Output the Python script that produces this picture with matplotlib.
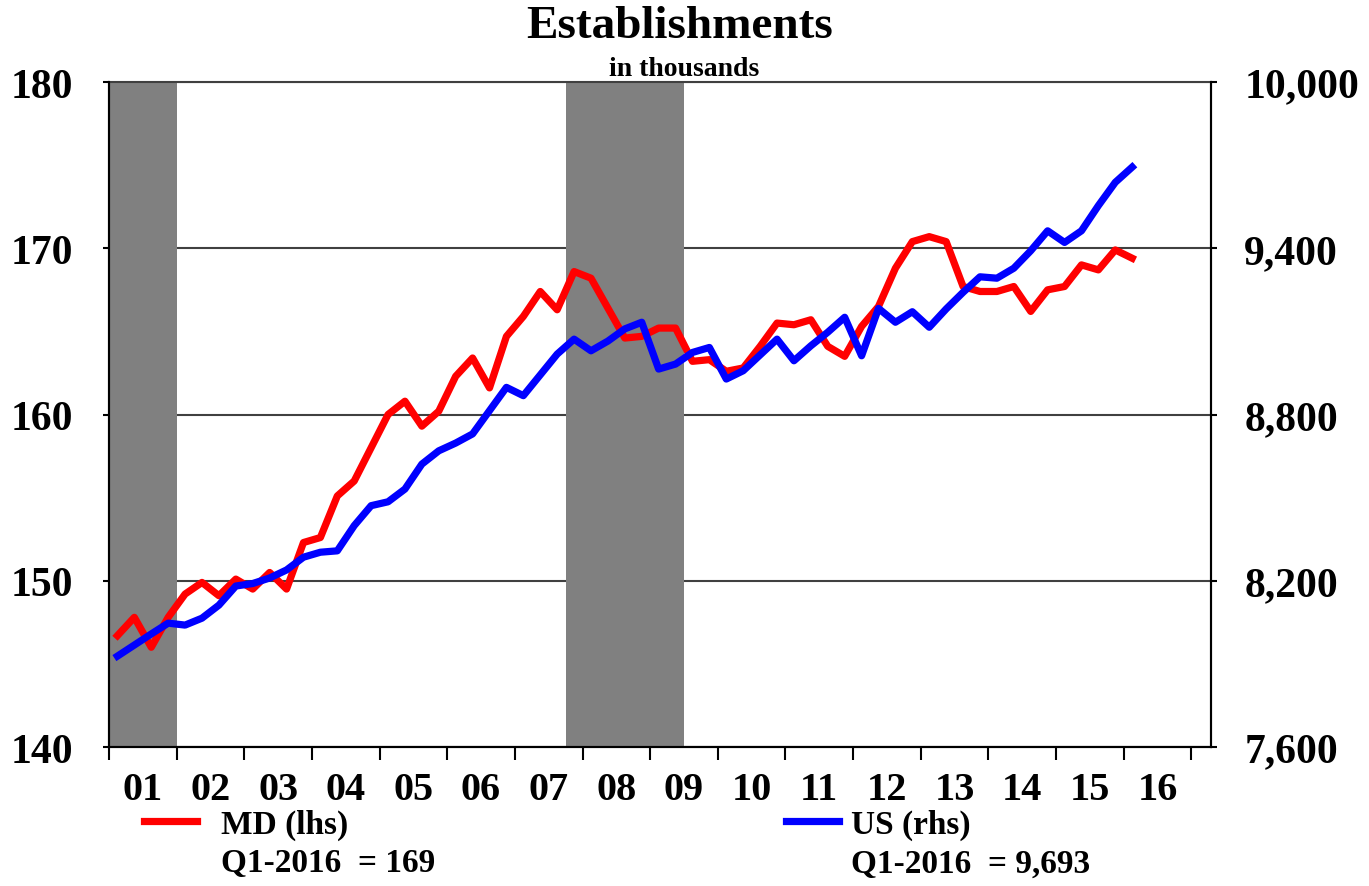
import numpy as np
import matplotlib.pyplot as plt
from matplotlib.ticker import FuncFormatter

# quarterly establishments, Q1-2001 .. Q1-2016 (thousands)
md = [146.7, 147.8, 146.0, 147.8, 149.2, 149.9, 149.1, 150.1, 149.5, 150.5,
      149.5, 152.3, 152.6, 155.1, 156.0, 158.0, 160.0, 160.8, 159.3, 160.2,
      162.3, 163.4, 161.6, 164.7, 165.9, 167.4, 166.3, 168.6, 168.2, 166.4,
      164.6, 164.7, 165.2, 165.2, 163.2, 163.3, 162.6, 162.8, 164.1, 165.5,
      165.4, 165.7, 164.1, 163.5, 165.3, 166.5, 168.8, 170.4, 170.7, 170.4,
      167.7, 167.4, 167.4, 167.7, 166.2, 167.5, 167.7, 169.0, 168.7, 169.9,
      169.4]
us = [7928, 7968, 8008, 8047, 8040, 8065, 8112, 8181, 8190, 8210,
      8239, 8285, 8303, 8308, 8399, 8471, 8485, 8531, 8621, 8669,
      8697, 8730, 8814, 8898, 8868, 8943, 9018, 9072, 9030, 9065,
      9109, 9133, 8964, 8982, 9024, 9042, 8928, 8958, 9015, 9072,
      8994, 9048, 9097, 9151, 9012, 9183, 9133, 9171, 9115, 9181,
      9241, 9297, 9292, 9328, 9391, 9463, 9421, 9463, 9554, 9638,
      9693]
t = 2001 + (np.arange(len(md)) + 0.5) / 4   # mid-quarter

years = np.arange(2001, 2018)
year_labels = ['01', '02', '03', '04', '05', '06', '07', '08',
               '09', '10', '11', '12', '13', '14', '15', '16']
recessions = [(2001.0, 2002.0), (2007.75, 2009.5)]
lhs_ticks = [140, 150, 160, 170, 180]
rhs_ticks = [7600, 8200, 8800, 9400, 10000]

plt.rcParams['font.family'] = ['Liberation Serif', 'DejaVu Serif']
plt.rcParams['font.weight'] = 'bold'

fig = plt.figure(figsize=(13.69, 8.87), dpi=100)
ax = fig.add_axes([0.0796, 0.1567, 0.8050, 0.7497])

for a, b in recessions:
    ax.axvspan(a, b, color='#808080', lw=0, zorder=1)

ax.set_axisbelow(True)
ax.yaxis.grid(True, color='#404040', lw=1.5)
h_md, = ax.plot(t, md, color='#ff0000', lw=5.2, zorder=3, label='MD (lhs)')

ax.set_xlim(2001, 2017.29)
ax.set_ylim(140, 180)
ax.set_yticks(lhs_ticks)
ax.set_xticks(years)
ax.set_xticklabels([])
ax.set_xticks(years[:-1] + 0.5, minor=True)
ax.set_xticklabels(year_labels, minor=True)
ax.tick_params(axis='x', which='major', direction='out', length=9, width=1.5)
ax.tick_params(axis='x', which='minor', length=0, pad=17, labelsize=29)
ax.tick_params(axis='y', direction='out', length=4, width=1.5, pad=22, labelsize=30)
for s in ax.spines.values():
    s.set_linewidth(1.5)
ax.spines['top'].set_color('#404040')

ax2 = ax.twinx()
h_us, = ax2.plot(t, us, color='#0000ff', lw=5.2, zorder=3, label='US (rhs)')
ax2.set_ylim(7600, 10000)
ax2.set_yticks(rhs_ticks)
ax2.yaxis.set_major_formatter(FuncFormatter(lambda v, p: f'{int(v):,}'))
ax2.tick_params(axis='y', direction='out', length=4, width=1.5, pad=20, labelsize=30)
for s in ax2.spines.values():
    s.set_linewidth(1.5)
ax2.spines['top'].set_visible(False)

fig.text(0.4967, 1 - 38.5 / 887, 'Establishments', fontsize=34, ha='center', va='baseline')
fig.text(0.5, 1 - 76.5 / 887, 'in thousands', fontsize=20, ha='center', va='baseline')

fig.legend(handles=[h_md], loc='center left', bbox_to_anchor=(144 / 1369, 1 - 825 / 887),
           frameon=False, fontsize=24, handlelength=1.6, handletextpad=0.7,
           borderpad=0, borderaxespad=0)
fig.legend(handles=[h_us], loc='center left', bbox_to_anchor=(786 / 1369, 1 - 825 / 887),
           frameon=False, fontsize=24, handlelength=1.6, handletextpad=0.35,
           borderpad=0, borderaxespad=0)
fig.text(221 / 1369, 1 - 864 / 887, f'Q1-2016  = {md[-1]:.0f}', fontsize=24, va='center')
fig.text(851 / 1369, 1 - 864 / 887, f'Q1-2016  = {us[-1]:,}', fontsize=24, va='center')

fig.savefig('out.png', dpi=100)
